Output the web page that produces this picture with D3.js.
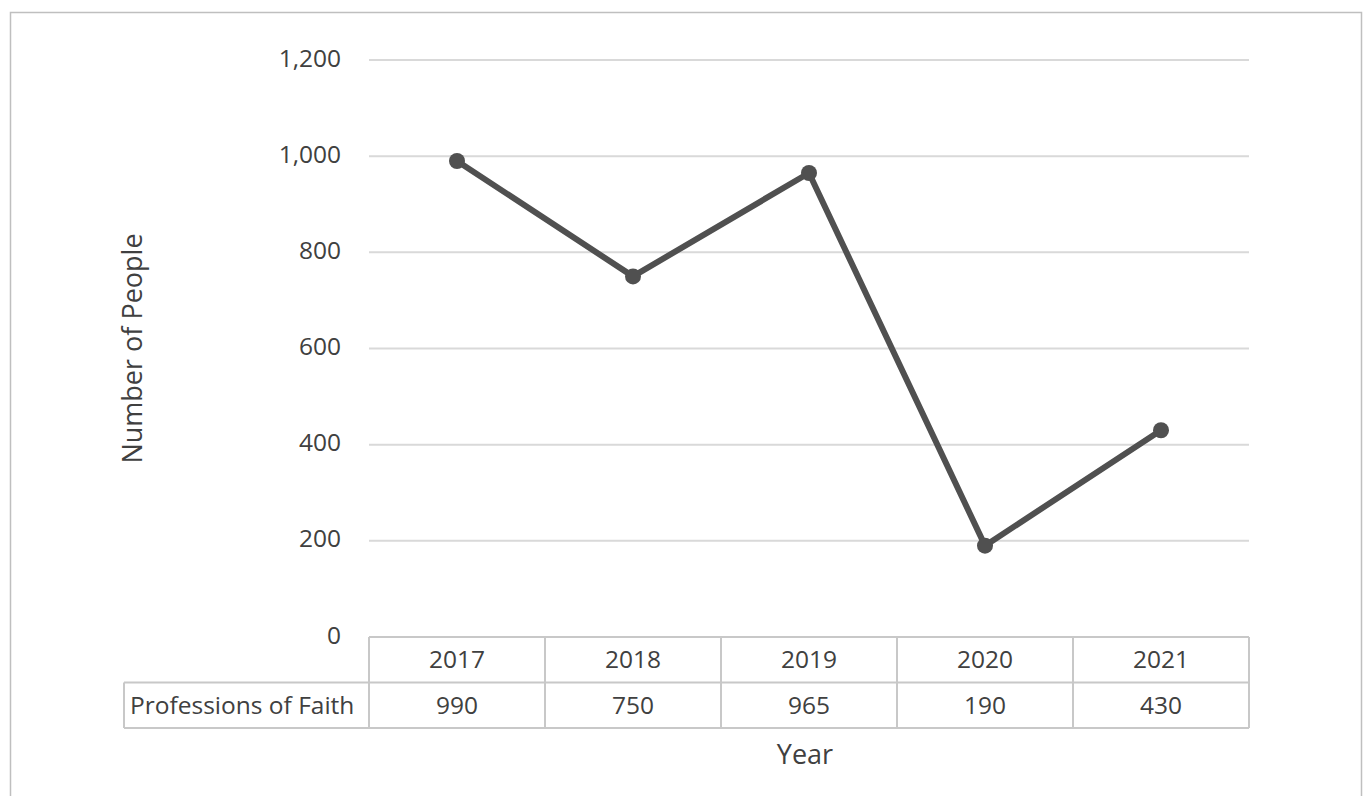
<!DOCTYPE html>
<html>
<head>
<meta charset="utf-8">
<script src="https://cdn.jsdelivr.net/npm/d3@7"></script>
<style>
  body { margin: 0; background: #fff; }
  svg { display: block; font-family: "Open Sans", "Noto Sans", sans-serif; }
  .grid line { stroke: #d9d9d9; stroke-width: 2; }
  .tbl line { stroke: #c8c8c8; stroke-width: 2; }
  text { fill: #404040; }
</style>
</head>
<body>
<svg id="chart"></svg>
<script>
// chart data
const years = ['2017', '2018', '2019', '2020', '2021'];
const faith = [990, 750, 965, 190, 430];
const seriesName = 'Professions of Faith';
const yTicks = [0, 200, 400, 600, 800, 1000, 1200];

const width = 1370, height = 796;
const margin = { top: 60, right: 121, left: 369 };
const plotBottom = 637;
const rowH = 45.5;
const fs = 24.5;

const svg = d3.select('#chart').attr('width', width).attr('height', height);

// outer chart frame
svg.append('rect')
  .attr('x', 10.5).attr('y', 12.5)
  .attr('width', 1351).attr('height', 800)
  .attr('fill', 'none')
  .attr('stroke', '#bfbfbf')
  .attr('stroke-width', 1.5);

const x = d3.scaleBand()
  .domain(years)
  .range([margin.left, width - margin.right]);

const y = d3.scaleLinear()
  .domain([0, 1200])
  .range([plotBottom, margin.top]);

// Gridlines
svg.append('g').attr('class', 'grid')
  .selectAll('line')
  .data(yTicks.filter(d => d > 0))
  .join('line')
  .attr('x1', x.range()[0]).attr('x2', x.range()[1])
  .attr('y1', d => y(d)).attr('y2', d => y(d));

// Y axis labels
svg.append('g')
  .selectAll('text')
  .data(yTicks)
  .join('text')
  .attr('x', 341)
  .attr('y', d => y(d) - 2)
  .attr('dy', '0.35em')
  .attr('text-anchor', 'end')
  .attr('font-size', fs)
  .text(d => d3.format(',')(d));

// Data table under the plot
const tbl = svg.append('g').attr('class', 'tbl');
const x0 = x.range()[0], x1 = x.range()[1];
const tableLeft = 124;
const hLines = [
  { y: plotBottom, a: x0, b: x1 },
  { y: plotBottom + rowH, a: tableLeft, b: x1 },
  { y: plotBottom + 2 * rowH, a: tableLeft, b: x1 }
];
tbl.selectAll('.h')
  .data(hLines)
  .join('line')
  .attr('class', 'h')
  .attr('x1', d => d.a).attr('x2', d => d.b)
  .attr('y1', d => d.y).attr('y2', d => d.y);

const vEdges = years.map(d => x(d)).concat([x1]);
tbl.selectAll('.v')
  .data(vEdges)
  .join('line')
  .attr('class', 'v')
  .attr('x1', d => d).attr('x2', d => d)
  .attr('y1', plotBottom).attr('y2', plotBottom + 2 * rowH);
tbl.append('line')
  .attr('x1', tableLeft).attr('x2', tableLeft)
  .attr('y1', plotBottom + rowH).attr('y2', plotBottom + 2 * rowH);

svg.append('g')
  .selectAll('text')
  .data(years)
  .join('text')
  .attr('x', d => x(d) + x.bandwidth() / 2)
  .attr('y', plotBottom + rowH / 2)
  .attr('dy', '0.35em')
  .attr('text-anchor', 'middle')
  .attr('font-size', fs)
  .text(d => d);

svg.append('g')
  .selectAll('text')
  .data(faith)
  .join('text')
  .attr('x', (d, i) => x(years[i]) + x.bandwidth() / 2)
  .attr('y', plotBottom + rowH * 1.5)
  .attr('dy', '0.35em')
  .attr('text-anchor', 'middle')
  .attr('font-size', fs)
  .text(d => d);

svg.append('text')
  .attr('x', tableLeft + 6)
  .attr('y', plotBottom + rowH * 1.5)
  .attr('dy', '0.35em')
  .attr('font-size', fs)
  .text(seriesName);

// Line series
const pts = faith.map((v, i) => ({ year: years[i], value: v }));
const line = d3.line()
  .x(d => x(d.year) + x.bandwidth() / 2)
  .y(d => y(d.value));

svg.append('path')
  .datum(pts)
  .attr('d', line)
  .attr('fill', 'none')
  .attr('stroke', '#505050')
  .attr('stroke-width', 6)
  .attr('stroke-linejoin', 'round');

svg.append('g')
  .selectAll('circle')
  .data(pts)
  .join('circle')
  .attr('cx', d => x(d.year) + x.bandwidth() / 2)
  .attr('cy', d => y(d.value))
  .attr('r', 8)
  .attr('fill', '#505050');

// Axis titles
svg.append('text')
  .attr('transform', `translate(142, ${(margin.top + plotBottom) / 2}) rotate(-90)`)
  .attr('text-anchor', 'middle')
  .attr('font-size', 27)
  .text('Number of People');

svg.append('text')
  .attr('x', (x0 + x1) / 2 - 4)
  .attr('y', 764)
  .attr('text-anchor', 'middle')
  .attr('font-size', 27)
  .text('Year');
</script>
</body>
</html>
